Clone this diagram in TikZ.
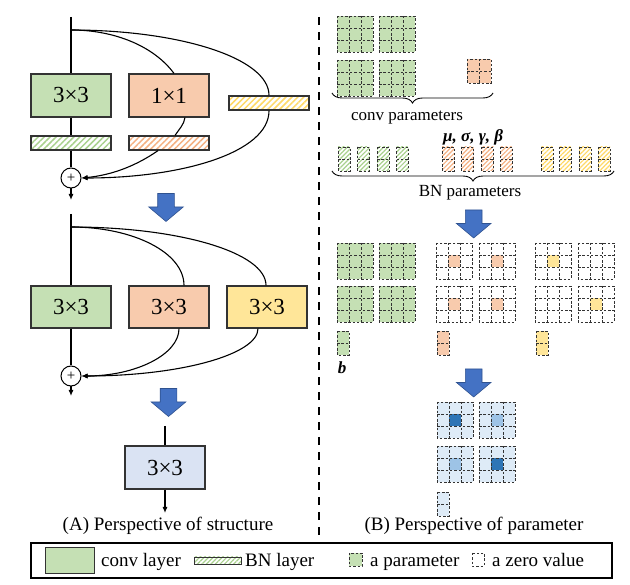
\documentclass[tikz,border=0pt]{standalone}
\usepackage{fontspec}
\setmainfont{Liberation Serif}
\usetikzlibrary{arrows.meta,patterns.meta,shapes.arrows,decorations.pathreplacing}

\definecolor{convgreen}{HTML}{C5E0B4}
\definecolor{convorange}{HTML}{F8CBAD}
\definecolor{convyellow}{HTML}{FFE699}
\definecolor{fusedblue}{HTML}{DAE3F3}
\definecolor{hatchgreen}{HTML}{A9D18E}
\definecolor{hatchorange}{HTML}{F4B183}
\definecolor{hatchyellow}{HTML}{FFD966}
\definecolor{arrowblue}{HTML}{4472C4}
\definecolor{arrowedge}{HTML}{2F528F}
\definecolor{cellblue}{HTML}{DEEBF7}
\definecolor{darkblue}{HTML}{2E75B6}
\definecolor{midblue}{HTML}{9DC3E6}

\tikzset{
  convbox/.style={draw=black!80, line width=1.2pt, minimum width=80pt, minimum height=43pt, inner sep=0pt, font=\fontsize{23}{23}\selectfont},
  bnbar/.style={draw=black!80, line width=1.2pt, minimum width=80pt, minimum height=14pt, inner sep=0pt, pattern={Lines[angle=45,distance=4.2pt,line width=1.5pt]}},
  bnhatch/.style={pattern={Lines[angle=45,distance=3.2pt,line width=1.2pt]}, pattern color=#1},
  addnode/.style={circle, draw, line width=1pt, minimum size=20pt, inner sep=0pt, font=\fontsize{15}{15}\selectfont},
  flow/.style={line width=1.1pt},
  flowarrow/.style={line width=1.1pt, -{Latex[length=6pt,width=5pt]}},
  bigarrow/.style={single arrow, draw=arrowedge, fill=arrowblue, line width=0.6pt, inner xsep=0pt, inner ysep=8pt, minimum height=28pt, single arrow head extend=9pt, single arrow tip angle=100, rotate=-90},
  cellline/.style={draw=black!80, line width=0.9pt, dash pattern=on 2.5pt off 1.8pt},
  bracedeco/.style={decorate, decoration={brace, amplitude=10pt, mirror}, line width=0.9pt},
  caption/.style={font=\fontsize{19}{19}\selectfont},
  paramlabel/.style={font=\fontsize{17}{17}\selectfont},
  legendtext/.style={font=\fontsize{19}{19}\selectfont, inner sep=0pt, anchor=base west},
}

% a 3x3 kernel: top-left x, top-left y, fill
\newcommand{\kernel}[3]{%
  \fill[#3] (#1,#2) rectangle ++(36,36);
  \draw[cellline] (#1,#2) rectangle ++(36,36)
    (#1+12,#2) -- ++(0,36) (#1+24,#2) -- ++(0,36)
    (#1,#2+12) -- ++(36,0) (#1,#2+24) -- ++(36,0);
}
% a 3x3 kernel with its centre cell coloured
\newcommand{\kernelc}[4]{%
  \fill[#3] (#1,#2) rectangle ++(36,36);
  \fill[#4] (#1+12,#2+12) rectangle ++(12,12);
  \draw[cellline] (#1,#2) rectangle ++(36,36)
    (#1+12,#2) -- ++(0,36) (#1+24,#2) -- ++(0,36)
    (#1,#2+12) -- ++(36,0) (#1,#2+24) -- ++(36,0);
}
% a column of two values (bias / BN)
\newcommand{\paramcol}[3]{%
  \fill[#3] (#1,#2) rectangle ++(12,24);
  \draw[cellline] (#1,#2) rectangle ++(12,24) (#1,#2+12) -- ++(12,0);
}

\begin{document}
\begin{tikzpicture}[x=1pt, y=-1pt]
\useasboundingbox (0,0) rectangle (630,585);

% (A) training-time block
\coordinate (in1) at (71,17);
\coordinate (br1) at (71,30);
\node[convbox, fill=convgreen] (g1) at (71,95.5) {3×3};
\node[convbox, fill=convorange] (o1) at (169,95.5) {1×1};
\node[bnbar, pattern color=hatchyellow] (y1) at (269,103) {};
\node[bnbar, pattern color=hatchgreen] (gb1) at (71,143) {};
\node[bnbar, pattern color=hatchorange] (ob1) at (169,143) {};
\node[addnode] (plus1) at (71,178) {+};
\coordinate (out1) at (71,200);
\draw[flow] (in1) -- (g1);
\draw[flow] (g1) -- (gb1);
\draw[flow] (gb1) -- (plus1);
\draw[flowarrow] (plus1) -- (out1);
\draw[flow] (br1) .. controls +(44,0) and +(-20,-27) .. ([xshift=5pt]o1.north);
\draw[flow] ([xshift=16pt]o1.south) .. controls +(-1,7) and +(4,-6) .. ([xshift=6pt]ob1.north);
\draw[flowarrow] ([xshift=-11pt]ob1.south) .. controls +(-20,14) and +(32,-3) .. (plus1.east);
\draw[flow] (br1) .. controls +(109,0) and +(0,-37) .. (y1.north);
\draw[flowarrow] (y1.south) .. controls +(0,42) and +(100,0) .. (plus1.east);

\node[bigarrow] (arr1) at (166,204) {};

% merged BN block
\coordinate (in2) at (71,214);
\coordinate (br2) at (71,227);
\node[convbox, fill=convgreen, minimum height=42pt] (g2) at (71,307) {3×3};
\node[convbox, fill=convorange, minimum height=42pt] (o2) at (169,307) {3×3};
\node[convbox, fill=convyellow, minimum height=42pt] (y2) at (267,307) {3×3};
\node[addnode] (plus2) at (71,376) {+};
\coordinate (out2) at (71,396);
\draw[flow] (in2) -- (g2);
\draw[flow] (g2) -- (plus2);
\draw[flowarrow] (plus2) -- (out2);
\draw[flow] (br2) .. controls +(62,0) and +(0,-33) .. ([xshift=15pt]o2.north);
\draw[flow] (br2) .. controls +(108,0) and +(0,-33) .. ([xshift=-1pt]y2.north);
\draw[flowarrow] ([xshift=10pt]o2.south) .. controls +(0,26) and +(54,0) .. (plus2.east);
\draw[flowarrow] ([xshift=-9pt]y2.south) .. controls +(0,26) and +(98,0) .. (plus2.east);

\node[bigarrow] (arr2) at (168.5,399) {};

% single fused conv
\coordinate (in3) at (165,426);
\node[convbox, fill=fusedblue] (f3) at (165,467.5) {3×3};
\coordinate (out3) at (165,513);
\draw[flow] (in3) -- (f3);
\draw[flowarrow] (f3) -- (out3);
\node[caption] (capA) at (168,526) {(A) Perspective of structure};

% divider
\draw[line width=2.5pt, dash pattern=on 8pt off 7pt] (319,17) -- (319,540);

% (B) conv parameters
\foreach \kx/\ky in {337/16, 379/16, 337/60, 379/60} {\kernel{\kx}{\ky}{convgreen}}
\fill[convorange] (467,59) rectangle ++(24,24);
\draw[cellline] (467,59) rectangle ++(24,24) (479,59) -- ++(0,24) (467,71) -- ++(24,0);
\draw[bracedeco] (332,93) -- (493,93);
\node[paramlabel] (convlbl) at (407,118) {conv parameters};

% BN parameters
\foreach \cx in {338, 357.5, 377, 396.5} {\paramcol{\cx}{147}{bnhatch=hatchgreen}}
\foreach \cx in {442, 461.5, 481.5, 500.5} {\paramcol{\cx}{147}{bnhatch=hatchorange}}
\foreach \cx in {541, 559.5, 579, 598} {\paramcol{\cx}{147}{bnhatch=hatchyellow}}
\node[paramlabel, anchor=base west, inner sep=0pt] (bnsym) at (443,141.5) {\bfseries\itshape μ, σ, γ, β};
\draw[bracedeco] (332,171) -- (614,171);
\node[paramlabel] (bnlbl) at (470,193) {BN parameters};

\node[bigarrow] (arr3) at (473.7,220.5) {};

% BN folded into the kernels
\foreach \kx/\ky in {337/243, 379/243, 337/286, 379/286} {\kernel{\kx}{\ky}{convgreen}}
\foreach \kx/\ky in {436/243, 479/243, 436/286, 479/286} {\kernelc{\kx}{\ky}{white}{convorange}}
\kernelc{535}{243}{white}{convyellow}
\kernel{578}{243}{white}
\kernel{535}{286}{white}
\kernelc{578}{286}{white}{convyellow}
\paramcol{337}{331}{convgreen}
\paramcol{437}{331}{convorange}
\paramcol{536}{331}{convyellow}
\node[paramlabel] (biaslbl) at (342,368) {\bfseries\itshape b};

\node[bigarrow] (arr4) at (473.7,379.5) {};

% fused kernel
\kernelc{437}{402}{cellblue}{darkblue}
\kernelc{479}{402}{cellblue}{midblue}
\kernelc{437}{446}{cellblue}{midblue}
\kernelc{479}{446}{cellblue}{darkblue}
\paramcol{437}{492}{cellblue}
\node[caption] (capB) at (474,526) {(B) Perspective of parameter};

% legend
\draw[line width=1.8pt] (31,543) rectangle (612,578);
\node[draw=black!80, line width=1pt, fill=convgreen, minimum width=49pt, minimum height=25pt, inner sep=0pt] (lgconv) at (69.5,560.5) {};
\node[legendtext] (lgconvtxt) at (101,566) {conv layer};
\node[draw=black!80, line width=0.8pt, minimum width=47pt, minimum height=7pt, inner sep=0pt, bnhatch=hatchgreen] (lgbn) at (217.5,560.5) {};
\node[legendtext] (lgbntxt) at (245,566) {BN layer};
\fill[convgreen] (349,553) rectangle ++(13,13);
\draw[cellline] (349,553) rectangle ++(13,13);
\node[legendtext] (lgparamtxt) at (370,566) {a parameter};
\draw[cellline] (472,553) rectangle ++(12,13);
\node[legendtext] (lgzerotxt) at (492,566) {a zero value};
\end{tikzpicture}
\end{document}
